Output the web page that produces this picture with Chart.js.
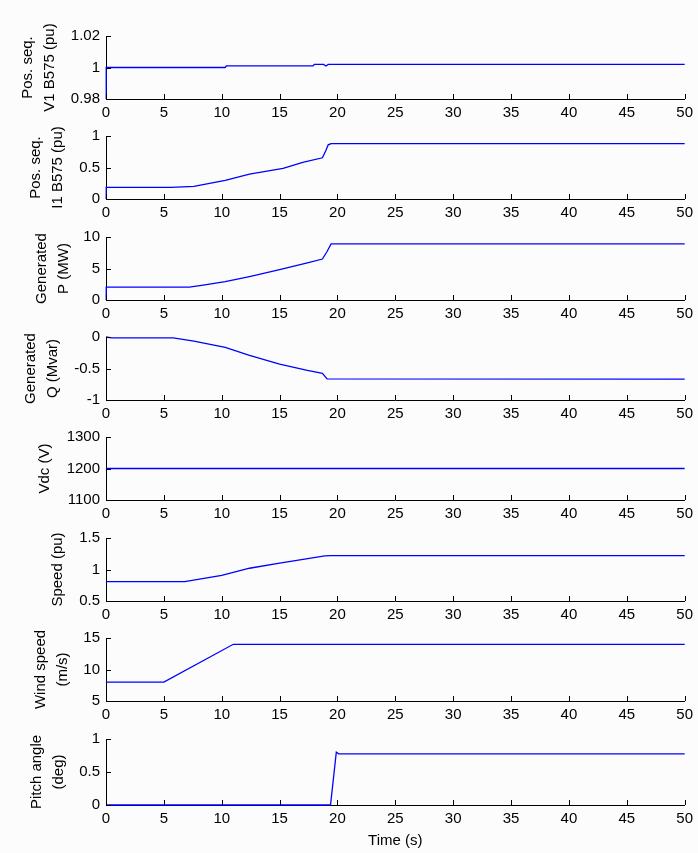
<!DOCTYPE html>
<html>
<head>
<meta charset="utf-8">
<script src="https://cdn.jsdelivr.net/npm/chart.js@4.4.0/dist/chart.umd.min.js"></script>
<style>
  body { margin: 0; background: #fcfcfc; width: 698px; height: 853px; overflow: hidden; position: relative; }
  canvas { position: absolute; left: 0; }
</style>
</head>
<body>
<script>
// time axis ticks (s)
const timeTicks = [0, 5, 10, 15, 20, 25, 30, 35, 40, 45, 50];

// Pos. seq. V1 B575 (pu)
const v1Time = [0, 0.02, 10.3, 10.4, 17.9, 18.0, 18.8, 19.0, 19.2, 50];
const v1Vals = [0.98, 1.0, 1.0, 1.001, 1.001, 1.002, 1.002, 1.001, 1.002, 1.002];

// Pos. seq. I1 B575 (pu)
const i1Time = [0, 0.02, 5.6, 7.6, 10.3, 12.4, 15.3, 17.0, 18.7, 19.0, 19.2, 19.45, 50];
const i1Vals = [0, 0.183, 0.183, 0.2, 0.297, 0.395, 0.485, 0.58, 0.654, 0.77, 0.86, 0.88, 0.88];

// Generated P (MW)
const pTime = [0, 0.02, 7.2, 8.4, 10.3, 12.4, 15.0, 17.4, 18.7, 19.1, 19.45, 50];
const pVals = [0, 2.03, 2.03, 2.36, 2.9, 3.72, 4.83, 5.9, 6.5, 7.7, 8.9, 8.9];

// Generated Q (Mvar)
const qTime = [0, 0.5, 5.8, 7.6, 10.3, 12.4, 15.0, 17.4, 18.7, 19.1, 50];
const qVals = [0, -0.015, -0.015, -0.065, -0.165, -0.29, -0.43, -0.53, -0.576, -0.665, -0.67];

// Vdc (V)
const vdcTime = [0, 50];
const vdcVals = [1200, 1200];

// Speed (pu)
const speedTime = [0, 6.8, 10.0, 12.4, 15.0, 17.3, 18.9, 19.4, 50];
const speedVals = [0.807, 0.807, 0.905, 1.02, 1.1, 1.17, 1.215, 1.22, 1.22];

// Wind speed (m/s)
const windTime = [0, 5, 11, 50];
const windVals = [8, 8, 14, 14];

// Pitch angle (deg)
const pitchTime = [0, 19.4, 19.9, 20.1, 50];
const pitchVals = [0, 0, 0.8, 0.775, 0.775];

// y tick labels per panel
const v1Ticks = [0.98, 1, 1.02];
const i1Ticks = [0, 0.5, 1];
const pTicks = [0, 5, 10];
const qTicks = [-1, -0.5, 0];
const vdcTicks = [1100, 1200, 1300];
const speedTicks = [0.5, 1, 1.5];
const windTicks = [5, 10, 15];
const pitchTicks = [0, 0.5, 1];

const panels = [
  { title: ['Pos. seq.', 'V1 B575 (pu)'], t: v1Time, y: v1Vals, ticks: v1Ticks, top: 31, h: 68, titleX: 28 },
  { title: ['Pos. seq.', 'I1 B575 (pu)'], t: i1Time, y: i1Vals, ticks: i1Ticks, top: 131, h: 68, titleX: 36 },
  { title: ['Generated', 'P (MW)'], t: pTime, y: pVals, ticks: pTicks, top: 232, h: 68, titleX: 42 },
  { title: ['Generated', 'Q (Mvar)'], t: qTime, y: qVals, ticks: qTicks, top: 332, h: 68, titleX: 31 },
  { title: 'Vdc (V)', t: vdcTime, y: vdcVals, ticks: vdcTicks, top: 432, h: 68, titleX: 45 },
  { title: 'Speed (pu)', t: speedTime, y: speedVals, ticks: speedTicks, top: 533, h: 68, titleX: 58 },
  { title: ['Wind speed', '(m/s)'], t: windTime, y: windVals, ticks: windTicks, top: 633, h: 68, titleX: 41 },
  { title: ['Pitch angle', '(deg)'], t: pitchTime, y: pitchVals, ticks: pitchTicks, top: 734, h: 71, titleX: 37, xTitle: 'Time (s)' }
];

Chart.defaults.font.family = "'Liberation Sans', Arial, sans-serif";
Chart.defaults.font.size = 15;
Chart.defaults.color = '#000';

// MATLAB style tick marks pointing into the axes
const inwardTicks = {
  id: 'inwardTicks',
  afterDraw(chart) {
    const { ctx, chartArea: a, scales: { x, y } } = chart;
    ctx.save();
    ctx.strokeStyle = '#000';
    ctx.lineWidth = 1;
    ctx.beginPath();
    x.ticks.forEach(t => {
      const px = Math.round(x.getPixelForValue(t.value)) + 0.5;
      ctx.moveTo(px, a.bottom);
      ctx.lineTo(px, a.bottom - 5);
    });
    y.ticks.forEach(t => {
      const py = Math.round(y.getPixelForValue(t.value)) + 0.5;
      ctx.moveTo(a.left, py);
      ctx.lineTo(a.left + 5, py);
    });
    ctx.stroke();
    ctx.restore();
  }
};

const padTop = 10;
const lineH = 21.5;

panels.forEach(p => {
  const xAxisH = p.xTitle ? 50 : 30;
  const canvas = document.createElement('canvas');
  canvas.width = 698;
  canvas.height = padTop + p.h + xAxisH;
  canvas.style.top = (p.top - padTop) + 'px';
  document.body.appendChild(canvas);

  new Chart(canvas, {
    type: 'line',
    data: {
      datasets: [{
        data: p.t.map((t, i) => ({ x: t, y: p.y[i] })),
        borderColor: 'rgb(0,0,255)',
        borderWidth: 1.3,
        pointRadius: 0,
        tension: 0,
        clip: 3
      }]
    },
    options: {
      responsive: false,
      animation: false,
      events: [],
      layout: { padding: { left: 0, right: 12, top: padTop, bottom: 0 } },
      plugins: { legend: { display: false }, tooltip: { enabled: false } },
      scales: {
        x: {
          type: 'linear',
          min: timeTicks[0],
          max: timeTicks[timeTicks.length - 1],
          afterBuildTicks: s => { s.ticks = timeTicks.map(v => ({ value: v })); },
          ticks: { padding: 5, maxRotation: 0, autoSkip: false, callback: v => String(v) },
          grid: { display: false, drawTicks: false },
          border: { display: true, color: '#000', width: 1 },
          title: {
            display: !!p.xTitle,
            text: p.xTitle || '',
            font: { size: 15 },
            padding: { top: 0, bottom: 5 }
          },
          afterFit: s => { s.height = xAxisH; }
        },
        y: {
          min: p.ticks[0],
          max: p.ticks[p.ticks.length - 1],
          afterBuildTicks: s => { s.ticks = p.ticks.map(v => ({ value: v })); },
          ticks: { padding: 6, autoSkip: false, callback: v => String(+v.toFixed(2)) },
          grid: { display: false, drawTicks: false },
          border: { display: true, color: '#000', width: 1 },
          title: {
            display: true,
            text: p.title,
            font: { size: 15, lineHeight: lineH / 15 },
            padding: { top: p.titleX - lineH / 2, bottom: 0 }
          },
          afterFit: s => { s.width = 106; }
        }
      }
    },
    plugins: [inwardTicks]
  });
});
</script>
</body>
</html>
